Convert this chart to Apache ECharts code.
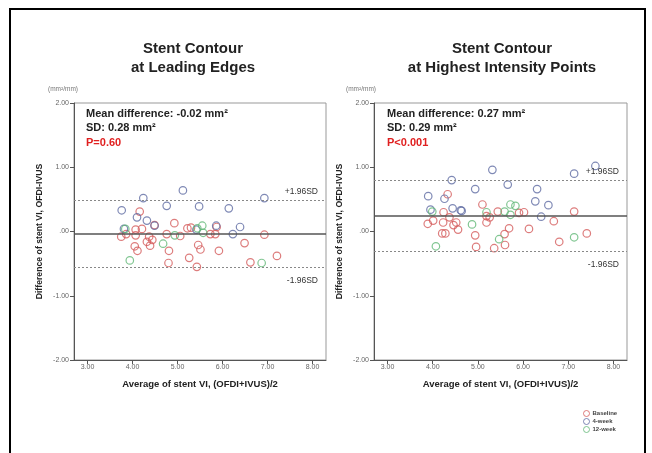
<!DOCTYPE html>
<html>
<head>
<meta charset="utf-8">
<script src="https://cdn.jsdelivr.net/npm/echarts@6/dist/echarts.min.js"></script>
<style>
html,body{margin:0;padding:0;background:#fff;}
#chart{width:652px;height:453px;}
</style>
</head>
<body>
<div id="chart"></div>
<script>
// ---------- Data ----------
var xTicks = [3, 4, 5, 6, 7, 8];
var groupNames = ['Baseline', '4-week', '12-week'];

// Left panel: Stent Contour at Leading Edges  [average, difference]
var leBaseline = [[4.16,0.31],[3.75,-0.08],[3.86,-0.04],[4.07,0.03],[4.07,-0.06],[4.21,0.04],[4.05,-0.23],[4.11,-0.30],
  [4.32,-0.16],[4.37,-0.08],[4.39,-0.22],[4.44,-0.13],[4.49,0.10],[4.76,-0.04],[4.81,-0.30],[4.93,0.13],[4.80,-0.49],
  [5.06,-0.07],[5.26,-0.41],[5.30,0.06],[5.43,-0.55],[5.46,-0.21],[5.51,-0.28],[5.73,-0.04],[5.84,-0.04],[5.87,0.07],
  [5.92,-0.30],[6.49,-0.18],[6.62,-0.48],[6.93,-0.05],[7.21,-0.38],[5.22,0.05]];
var le4week = [[3.76,0.33],[4.24,0.52],[4.10,0.22],[4.32,0.17],[4.49,0.09],[4.76,0.40],[5.12,0.64],[5.48,0.39],
  [6.14,0.36],[5.86,0.09],[6.39,0.07],[6.23,-0.04],[6.93,0.52],[3.81,0.04],[5.42,0.03]];
var le12week = [[3.94,-0.45],[3.84,0.04],[4.68,-0.19],[4.94,-0.06],[5.44,0.05],[5.55,0.09],[5.57,-0.02],[6.87,-0.49]];
var leLines = {mean: -0.03, upper: 0.49, lower: -0.55};

// Right panel: Stent Contour at Highest Intensity Points
var hiBaseline = [[3.89,0.12],[4.01,0.17],[4.33,0.58],[4.24,0.30],[4.23,0.14],[4.21,-0.03],[4.28,-0.03],[4.52,0.14],
  [4.56,0.03],[4.37,0.22],[4.94,-0.06],[4.96,-0.24],[5.19,0.24],[5.10,0.42],[5.19,0.14],[5.26,0.22],[5.36,-0.26],
  [5.44,0.31],[5.59,-0.04],[5.60,-0.21],[5.69,0.05],[5.91,0.29],[6.02,0.30],[6.13,0.04],[6.68,0.16],[6.80,-0.16],
  [7.13,0.31],[7.41,-0.03],[4.46,0.10]];
var hi4week = [[3.90,0.55],[4.26,0.51],[4.42,0.80],[4.44,0.36],[4.62,0.33],[4.94,0.66],[5.32,0.96],[5.66,0.73],
  [6.31,0.66],[6.27,0.47],[6.40,0.23],[6.56,0.41],[7.13,0.90],[7.60,1.02],[3.95,0.34],[4.64,0.32]];
var hi12week = [[4.07,-0.23],[3.99,0.31],[4.87,0.11],[5.19,0.30],[5.47,-0.12],[5.59,0.31],[5.72,0.42],[5.83,0.40],
  [5.72,0.26],[7.13,-0.09]];
var hiLines = {mean: 0.25, upper: 0.80, lower: -0.30};

// ---------- Styles ----------
var colors = ['#d45c5c', '#5f6ca3', '#62b877'];
var axisColor = '#555';
var FONT = 'Liberation Sans';

function yFmt(v){
  var s = v.toFixed(2);
  if (s === '0.00' || s === '-0.00') return '.00';
  return s;
}

function makeXAxis(idx){
  return {
    gridIndex: idx, type: 'value', min: 2.7, max: 8.3,
    name: 'Average of stent VI, (OFDI+IVUS)/2', nameLocation: 'middle', nameGap: 19,
    nameTextStyle: {fontFamily: FONT, fontWeight: 'bold', fontSize: 9.5, color: '#222'},
    axisLine: {show: true, onZero: false, lineStyle: {color: axisColor, width: 1}},
    axisTick: {show: true, inside: false, length: 4, customValues: xTicks, lineStyle: {color: axisColor}},
    axisLabel: {customValues: xTicks, formatter: function(v){return v.toFixed(2);}, fontSize: 7, color: '#666', margin: 4, fontFamily: FONT},
    splitLine: {show: false}
  };
}
function makeYAxis(idx){
  return {
    gridIndex: idx, type: 'value', min: -2, max: 2, interval: 1,
    name: 'Difference of stent VI, OFDI-IVUS', nameLocation: 'middle', nameGap: 30, nameRotate: 90,
    nameTextStyle: {fontFamily: FONT, fontWeight: 'bold', fontSize: 8.7, color: '#222'},
    axisLine: {show: true, onZero: false, lineStyle: {color: axisColor, width: 1}},
    axisTick: {show: true, inside: false, length: 4, lineStyle: {color: axisColor}},
    axisLabel: {formatter: yFmt, fontSize: 7, color: '#666', margin: 5, fontFamily: FONT},
    splitLine: {show: false}
  };
}

function refLines(l){
  return {
    silent: true, symbol: 'none', animation: false,
    data: [
      {yAxis: l.mean, lineStyle: {color: '#555', width: 1.6, type: 'solid'}, label: {show: false}},
      {yAxis: l.upper, lineStyle: {color: '#888', width: 1, type: [2, 2]},
        label: {show: true, formatter: '+1.96SD', position: 'insideEndTop', distance: [8, 4], fontSize: 8.5, color: '#333', fontFamily: FONT}},
      {yAxis: l.lower, lineStyle: {color: '#888', width: 1, type: [2, 2]},
        label: {show: true, formatter: '-1.96SD', position: 'insideEndBottom', distance: [8, 9], fontSize: 8.5, color: '#333', fontFamily: FONT}}
    ]
  };
}

function scat(name, data, gi, color, ml){
  var s = {
    name: name, type: 'scatter', xAxisIndex: gi, yAxisIndex: gi, data: data,
    symbol: 'circle', symbolSize: 7.5,
    itemStyle: {color: 'rgba(255,255,255,0)', borderColor: color, borderWidth: 1.2},
    z: 3
  };
  if (ml) s.markLine = ml;
  return s;
}

var chart = echarts.init(document.getElementById('chart'), null, {renderer: 'canvas'});
var titleStyle = {fontFamily: FONT, fontWeight: 'bold', fontSize: 15, lineHeight: 19, color: '#222'};
var noteStyle = function(t, color){ return {text: t, fontSize: 11, fontWeight: 'bold', fill: color || '#222', fontFamily: FONT}; };
var option = {
  animation: false,
  backgroundColor: '#fff',
  title: [
    {text: 'Stent Contour\nat Leading Edges', left: 188, top: 34, textAlign: 'center', textStyle: titleStyle},
    {text: 'Stent Contour\nat Highest Intensity Points', left: 497, top: 34, textAlign: 'center', textStyle: titleStyle}
  ],
  grid: [
    {left: 74, right: 326, top: 103, bottom: 93, show: true, borderColor: '#999', borderWidth: 1, backgroundColor: 'transparent'},
    {left: 374, right: 25, top: 103, bottom: 93, show: true, borderColor: '#999', borderWidth: 1, backgroundColor: 'transparent'}
  ],
  xAxis: [makeXAxis(0), makeXAxis(1)],
  yAxis: [makeYAxis(0), makeYAxis(1)],
  legend: {
    data: groupNames.map(function(n, i){
      return {name: n, icon: 'circle', itemStyle: {color: '#fff', borderColor: colors[i], borderWidth: 1}};
    }),
    orient: 'vertical', left: 578, top: 405, itemWidth: 6, itemHeight: 6, itemGap: 1,
    textStyle: {fontSize: 6, color: '#444', fontFamily: FONT, fontWeight: 'bold', padding: [0, 0, 0, -2]}
  },
  series: [
    scat(groupNames[0], leBaseline, 0, colors[0], refLines(leLines)),
    scat(groupNames[1], le4week, 0, colors[1]),
    scat(groupNames[2], le12week, 0, colors[2]),
    scat(groupNames[0], hiBaseline, 1, colors[0], refLines(hiLines)),
    scat(groupNames[1], hi4week, 1, colors[1]),
    scat(groupNames[2], hi12week, 1, colors[2])
  ],
  graphic: [
    {type: 'rect', shape: {x: 10, y: 9, width: 635, height: 460}, style: {fill: 'none', stroke: '#000', lineWidth: 2}, silent: true},
    {type: 'text', left: 48, top: 86, style: {text: '(mm²/mm)', fontSize: 6.5, fill: '#777', fontFamily: FONT}},
    {type: 'text', left: 346, top: 86, style: {text: '(mm²/mm)', fontSize: 6.5, fill: '#777', fontFamily: FONT}},
    {type: 'text', left: 86, top: 108, style: noteStyle('Mean difference: -0.02 mm²')},
    {type: 'text', left: 86, top: 122.5, style: noteStyle('SD: 0.28 mm²')},
    {type: 'text', left: 86, top: 137, style: noteStyle('P=0.60', '#e02020')},
    {type: 'text', left: 387, top: 108, style: noteStyle('Mean difference: 0.27 mm²')},
    {type: 'text', left: 387, top: 122.5, style: noteStyle('SD: 0.29 mm²')},
    {type: 'text', left: 387, top: 137, style: noteStyle('P<0.001', '#e02020')}
  ]
};
chart.setOption(option);
</script>
</body>
</html>
